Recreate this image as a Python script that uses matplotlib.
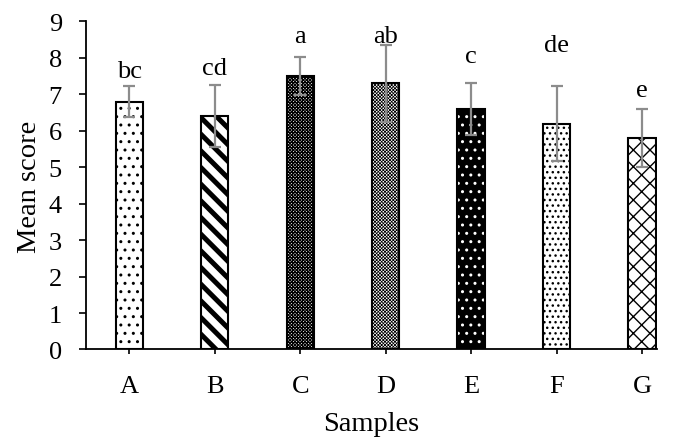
import matplotlib
matplotlib.use("Agg")
import matplotlib.pyplot as plt
import numpy as np

# data
samples = ["A", "B", "C", "D", "E", "F", "G"]
means = [6.8, 6.4, 7.5, 7.3, 6.6, 6.2, 5.8]
errors = [0.43, 0.85, 0.53, 1.05, 0.71, 1.03, 0.80]
letters = ["bc", "cd", "a", "ab", "c", "de", "e"]
letter_y = [7.47, 7.56, 8.45, 8.43, 7.88, 8.18, 6.96]

# fill style per bar: (face, hatch colour, hatch, hatch linewidth)
styles = [
    ("white", "black", "..", 1.0),
    ("white", "black", "\\\\", 3.6),
    ("white", "black", "xxxxxxxxxx", 0.9),
    ("white", "black", "xxxxxxxxxx", 0.55),
    ("black", "white", "..", 1.0),
    ("white", "black", "...", 1.0),
    ("white", "black", "xx", 1.0),
]

plt.rcParams["font.family"] = ["Liberation Serif", "DejaVu Serif"]

fig = plt.figure(figsize=(6.75, 4.39), dpi=100)
ax = fig.add_axes([0.1267, 0.2016, 0.8467, 0.7472])

x = np.arange(len(samples))
width = 0.32

for i in range(len(samples)):
    face, hcol, hatch, hlw = styles[i]
    with plt.rc_context({"hatch.linewidth": hlw}):
        b = ax.bar(x[i], means[i], width, color=face, edgecolor=hcol,
                   hatch=hatch, linewidth=0, zorder=2)
    for p in b:
        if hasattr(p, "set_hatch_linewidth"):
            p.set_hatch_linewidth(hlw)
    # black outline
    ax.bar(x[i], means[i], width, fill=False, edgecolor="black",
           linewidth=1.5, zorder=3)

ax.errorbar(x, means, yerr=errors, fmt="none", ecolor="#8c8c8c",
            elinewidth=1.6, capsize=4.5, capthick=1.6, zorder=4)

for i in range(len(samples)):
    ax.text(x[i], letter_y[i], letters[i], ha="center", va="baseline",
            fontsize=19)

ax.set_xlim(-0.513, 6.176)
ax.set_ylim(0, 9)
ax.set_yticks(range(0, 10))
ax.set_xticks(x)
ax.set_xticklabels(samples)

ax.spines["top"].set_visible(False)
ax.spines["right"].set_visible(False)
ax.spines["left"].set_linewidth(1.3)
ax.spines["bottom"].set_linewidth(1.3)

ax.tick_params(axis="y", direction="out", length=5, width=1.2,
               labelsize=19, pad=12)
ax.tick_params(axis="x", direction="out", length=3.6, width=1.2,
               labelsize=19, pad=15)

ax.set_xlabel("Samples", fontsize=20.5, labelpad=10)
ax.set_ylabel("Mean score", fontsize=20.5, labelpad=5)

fig.savefig("out.png", dpi=100)
